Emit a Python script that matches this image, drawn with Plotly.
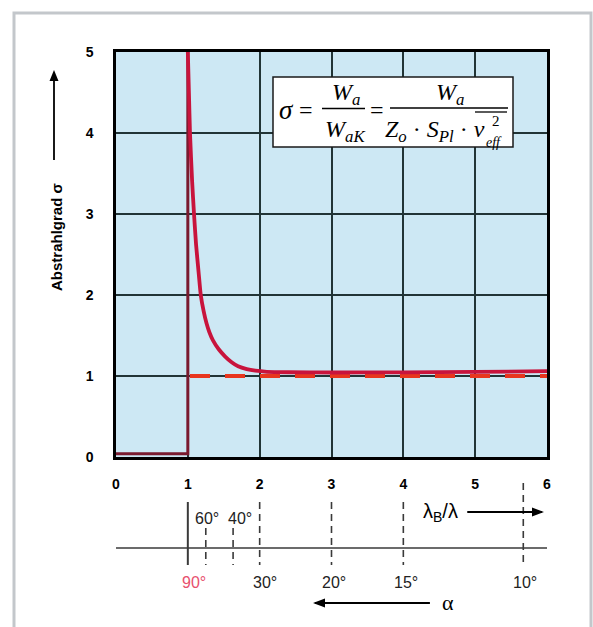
import plotly.graph_objects as go

# ---------------- data ----------------
x_tick_vals = [0, 1, 2, 3, 4, 5, 6]
x_tick_text = ["0", "1", "2", "3", "4", "5", "6"]
y_tick_vals = [0, 1, 2, 3, 4, 5]
y_tick_text = ["0", "1", "2", "3", "4", "5"]

# below the coincidence frequency (lambda_B/lambda < 1) + jump at 1
below_x = [0.0, 1.0, 1.0]
below_sigma = [0.04, 0.04, 5.0]

# radiation efficiency above the coincidence frequency
curve_x = [1.0, 1.015, 1.03, 1.06, 1.086, 1.115, 1.15, 1.18, 1.22, 1.26, 1.30, 1.35,
           1.43, 1.52, 1.61, 1.70, 1.82, 1.94, 2.1, 2.4, 3.0, 4.0, 5.0, 6.0]
curve_sigma = [5.0, 4.5, 4.0, 3.4, 3.0, 2.62, 2.28, 2.0, 1.8, 1.65, 1.54, 1.44,
               1.33, 1.24, 1.17, 1.12, 1.085, 1.065, 1.052, 1.046, 1.043, 1.045, 1.05, 1.06]

# sigma = 1 reference (dashed)
ref_x = [1.03, 6.0]
ref_sigma = [1.0, 1.0]

# angle scale alpha vs lambda_B/lambda
alpha_labels = ["90°", "60°", "40°", "30°", "20°", "15°", "10°"]
alpha_lambda = [1.0, 1.25, 1.63, 2.0, 3.0, 4.0, 5.67]

# ---------------- layout geometry ----------------
W, H = 593, 627
L, R, T, B = 116, 46, 52, 0
pw = W - L - R
ph = H - T - B


def PX(px):
    return (px - L) / pw


def PY(py):
    return (H - B - py) / ph


CURVE = "#c8143c"
MAROON = "#7a1a2e"
DASHRED = "#e8361e"
GRID = "#213436"
BG = "#cde8f4"
SCALE = "#3a3a3a"

fig = go.Figure()

fig.add_trace(go.Scatter(x=below_x, y=below_sigma, mode="lines",
                         line=dict(color=MAROON, width=3), showlegend=False))
fig.add_trace(go.Scatter(x=ref_x, y=ref_sigma, mode="lines",
                         line=dict(color=DASHRED, width=4, dash="20px,15px"),
                         showlegend=False))
fig.add_trace(go.Scatter(x=curve_x, y=curve_sigma, mode="lines",
                         line=dict(color=CURVE, width=3.8, shape="spline", smoothing=0.5),
                         showlegend=False))

# invisible trace on bottom subplot so axes exist
fig.add_trace(go.Scatter(x=[0, 6], y=[600, 600], mode="lines",
                         line=dict(color="rgba(0,0,0,0)"), xaxis="x2", yaxis="y2",
                         showlegend=False, hoverinfo="skip"))

tickfont = dict(family="Liberation Sans", size=14, color="black", weight=700)

fig.update_layout(
    template="none",
    width=W, height=H, autosize=False,
    margin=dict(l=L, r=R, t=T, b=B, pad=0),
    paper_bgcolor="white",
    plot_bgcolor="rgba(0,0,0,0)",
    showlegend=False,
    xaxis=dict(range=[0, 6], tickvals=x_tick_vals, ticktext=x_tick_text,
               showgrid=True, gridcolor=GRID, gridwidth=1.5, zeroline=False,
               showline=True, linecolor="black", linewidth=2.5, mirror=True,
               ticks="outside", ticklen=12, tickcolor="rgba(0,0,0,0)",
               tickfont=tickfont, anchor="y", domain=[0, 1], automargin=False),
    yaxis=dict(range=[0, 5], tickvals=y_tick_vals, ticktext=y_tick_text,
               showgrid=True, gridcolor=GRID, gridwidth=1.5, zeroline=False,
               showline=True, linecolor="black", linewidth=2.5, mirror=True,
               ticks="outside", ticklen=17, tickcolor="rgba(0,0,0,0)",
               tickfont=tickfont, anchor="x", domain=[PY(457), 1], automargin=False),
    xaxis2=dict(range=[0, 6], visible=False, anchor="y2", domain=[0, 1], automargin=False),
    yaxis2=dict(range=[H, 467], visible=False, anchor="x2", domain=[0, PY(467)],
                automargin=False),
)

shapes = []
# plot-area background (main subplot only)
shapes.append(dict(type="rect", xref="x domain", yref="y domain",
                   x0=0, x1=1, y0=0, y1=1, line=dict(width=0), fillcolor=BG,
                   layer="below"))
# outer light-grey frame
shapes.append(dict(type="rect", xref="paper", yref="paper",
                   x0=PX(14), x1=PX(591), y0=PY(640), y1=PY(13),
                   line=dict(color="#c3c7cb", width=3), fillcolor="rgba(0,0,0,0)",
                   layer="below"))

# bottom angle scale
shapes.append(dict(type="line", xref="x2", yref="y2", x0=0, x1=6, y0=548, y1=548,
                   line=dict(color=SCALE, width=1.5)))

alpha_style = {
    "90°": dict(row=582, xshift=6, top=502, dash="solid", color="#e8506e"),
    "60°": dict(row=518, xshift=1, top=528, dash="7px,5px", color="#222222"),
    "40°": dict(row=518, xshift=7, top=528, dash="7px,5px", color="#222222"),
    "30°": dict(row=582, xshift=5, top=502, dash="7px,5px", color="#222222"),
    "20°": dict(row=582, xshift=2, top=502, dash="7px,5px", color="#222222"),
    "15°": dict(row=582, xshift=3, top=502, dash="7px,5px", color="#222222"),
    "10°": dict(row=582, xshift=2, top=483, dash="7px,5px", color="#222222"),
}

annotations = []
for lab, lam in zip(alpha_labels, alpha_lambda):
    st = alpha_style[lab]
    shapes.append(dict(type="line", xref="x2", yref="y2", x0=lam, x1=lam,
                       y0=st["top"], y1=565,
                       line=dict(color=SCALE, width=2 if st["dash"] == "solid" else 1.6,
                                 dash=st["dash"])))
    annotations.append(dict(xref="x2", yref="y2", x=lam, y=st["row"], text=lab,
                            showarrow=False, xshift=st["xshift"],
                            xanchor="center", yanchor="middle",
                            font=dict(family="Liberation Sans", size=16, color=st["color"])))


def harrow(x_tail, x_head, yrow):
    """horizontal arrow on the bottom scale (x in lambda units, y in scale rows)"""
    shapes.append(dict(type="line", xref="x2", yref="y2", x0=x_tail, x1=x_head,
                       y0=yrow, y1=yrow, line=dict(color="black", width=1.8)))
    d = 1 if x_head > x_tail else -1
    shapes.append(dict(type="path", xref="x2", yref="y2",
                       xsizemode="pixel", ysizemode="pixel",
                       xanchor=x_head, yanchor=yrow,
                       path=f"M {2*d},0 L {-10*d},-4.5 L {-10*d},4.5 Z",
                       fillcolor="black", line=dict(width=0)))


# lambda_B / lambda label + arrow
annotations.append(dict(xref="x2", yref="y2", x=4.52, y=512,
                        text="λ<sub>B</sub>/λ", showarrow=False,
                        xanchor="center", yanchor="middle",
                        font=dict(family="Liberation Sans", size=20, color="black")))
harrow(4.89, 5.93, 512)
# alpha label + arrow
annotations.append(dict(xref="x2", yref="y2", x=4.62, y=602,
                        text="α", showarrow=False, xanchor="center", yanchor="middle",
                        font=dict(family="Liberation Serif", size=22, color="black")))
harrow(4.37, 2.77, 603)

# y-axis title + arrow
annotations.append(dict(xref="paper", yref="paper", x=PX(56), y=PY(237),
                        xanchor="center", yanchor="middle",
                        text="Abstrahlgrad σ", textangle=-90, showarrow=False,
                        font=dict(family="Liberation Sans", size=15, color="black", weight=700)))
shapes.append(dict(type="line", xref="paper", yref="paper",
                   x0=PX(54), x1=PX(54), y0=PY(160), y1=PY(74),
                   line=dict(color="black", width=1.8)))
shapes.append(dict(type="path", xref="paper", yref="paper",
                   xsizemode="pixel", ysizemode="pixel",
                   xanchor=PX(54), yanchor=PY(70),
                   path="M 0,0 L -4.5,-11 L 4.5,-11 Z",
                   fillcolor="black", line=dict(width=0)))

# formula box
shapes.append(dict(type="rect", xref="paper", yref="paper",
                   x0=PX(273), x1=PX(513), y0=PY(147), y1=PY(77),
                   line=dict(color="#1a1a1a", width=1.5), fillcolor="white"))
shapes.append(dict(type="line", xref="paper", yref="paper",
                   x0=PX(322), x1=PX(365), y0=PY(108.5), y1=PY(108.5),
                   line=dict(color="black", width=1.3)))
shapes.append(dict(type="line", xref="paper", yref="paper",
                   x0=PX(390), x1=PX(508), y0=PY(108), y1=PY(108),
                   line=dict(color="black", width=1.3)))
shapes.append(dict(type="line", xref="paper", yref="paper",
                   x0=PX(475), x1=PX(507), y0=PY(112), y1=PY(112),
                   line=dict(color="black", width=1.3)))

formula = [
    ("<i>σ</i>", 286, 110, 27, "center"),
    ("=", 306, 110, 24, "center"),
    ("<i>W<sub>a</sub></i>", 346, 94, 24, "center"),
    ("<i>W<sub>aK</sub></i>", 345, 131, 24, "center"),
    ("=", 377, 110, 24, "center"),
    ("<i>W<sub>a</sub></i>", 450, 94, 24, "center"),
    ("<i>Z<sub>o</sub></i> · <i>S<sub>Pl</sub></i> · <i>ν</i>", 487, 131, 24, "right"),
    ("2", 496, 121, 15, "center"),
    ("<i>eff</i>", 494, 142, 14, "center"),
]
for txt, fx, fy, fs, anc in formula:
    annotations.append(dict(xref="paper", yref="paper", x=PX(fx), y=PY(fy),
                            xanchor=anc, yanchor="middle", text=txt, showarrow=False,
                            font=dict(family="Liberation Serif", size=fs, color="black")))

fig.update_layout(shapes=shapes, annotations=annotations)

fig.write_html("out.html",
               config={"displayModeBar": False, "responsive": False},
               post_script="document.body.style.margin='0';"
                           "document.body.style.overflow='hidden';")
